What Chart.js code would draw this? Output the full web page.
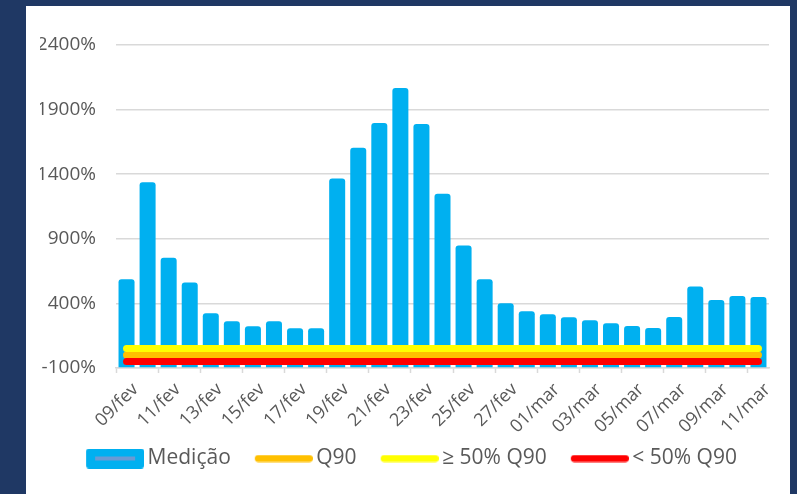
<!DOCTYPE html>
<html><head><meta charset="utf-8">
<script src="https://cdn.jsdelivr.net/npm/chart.js@4"></script>
<style>
html,body{margin:0;padding:0;background:#1F3864;width:797px;height:494px;overflow:hidden}
#wrap{position:absolute;left:26px;top:6px;width:764px;height:488px;background:#fff}
canvas{display:block}
</style></head><body>
<div id="wrap"><canvas id="c" width="764" height="488" style="width:764px;height:488px"></canvas></div>
<script>
const categories = ['09/fev','10/fev','11/fev','12/fev','13/fev','14/fev','15/fev','16/fev','17/fev','18/fev',
  '19/fev','20/fev','21/fev','22/fev','23/fev','24/fev','25/fev','26/fev','27/fev','28/fev',
  '01/mar','02/mar','03/mar','04/mar','05/mar','06/mar','07/mar','08/mar','09/mar','10/mar','11/mar'];
const medicao = [586, 1338, 754, 561, 323, 262, 223, 262, 208, 208,
  1367, 1604, 1797, 2068, 1789, 1249, 849, 586, 401, 339,
  316, 293, 270, 247, 225, 210, 295, 530, 426, 457, 449];
const q90 = [0,0,0,0,0,0,0,0,0,0,0,0,0,0,0,0,0,0,0,0,0,0,0,0,0,0,0,0,0,0,0];
const acima50 = [50,50,50,50,50,50,50,50,50,50,50,50,50,50,50,50,50,50,50,50,50,50,50,50,50,50,50,50,50,50,50];
const abaixo50 = [-50,-50,-50,-50,-50,-50,-50,-50,-50,-50,-50,-50,-50,-50,-50,-50,-50,-50,-50,-50,-50,-50,-50,-50,-50,-50,-50,-50,-50,-50,-50];
const yTicks = {min: -100, max: 2400, step: 500};
const seriesNames = ['Medição', 'Q90', '≥ 50% Q90', '< 50% Q90'];

const FONT = "'Open Sans', 'Noto Sans', sans-serif";
const TXT = '#595959';
const GRID = '#D9D9D9';

// legend marker images
const LM = 21, VIS = 58, TW = LM + VIS;
function boxMarker(){
  const c = document.createElement('canvas'); c.width = TW; c.height = 20;
  const g = c.getContext('2d');
  const x = LM, y = 0, w = VIS, h = 20, r = 3;
  g.fillStyle = '#00B0F0';
  g.beginPath();
  g.moveTo(x + r, y); g.lineTo(x + w - r, y); g.quadraticCurveTo(x + w, y, x + w, y + r);
  g.lineTo(x + w, y + h - r); g.quadraticCurveTo(x + w, y + h, x + w - r, y + h);
  g.lineTo(x + r, y + h); g.quadraticCurveTo(x, y + h, x, y + h - r);
  g.lineTo(x, y + r); g.quadraticCurveTo(x, y, x + r, y); g.closePath(); g.fill();
  g.fillStyle = '#6A9AD4';
  g.fillRect(x + 9, 8, w - 18, 4);
  return c;
}
function lineMarker(color){
  const c = document.createElement('canvas'); c.width = TW; c.height = 8;
  const g = c.getContext('2d');
  g.strokeStyle = color; g.lineWidth = 7; g.lineCap = 'round';
  g.beginPath(); g.moveTo(LM + 3.5, 4); g.lineTo(TW - 3.5, 4); g.stroke();
  return c;
}
const markers = [boxMarker(), lineMarker('#FFC000'), lineMarker('#FFFF00'), lineMarker('#FF0000')];

const lineDs = (label, data, color, order) => ({
  type: 'line', label, data, borderColor: color, backgroundColor: color,
  borderWidth: 7, borderCapStyle: 'round', borderJoinStyle: 'round',
  pointRadius: 0, pointHoverRadius: 0, fill: false, tension: 0, order
});

new Chart(document.getElementById('c'), {
  data: {
    labels: categories,
    datasets: [
      {type: 'bar', label: seriesNames[0], data: medicao, backgroundColor: '#00B0F0',
       base: yTicks.min, borderRadius: 3, borderSkipped: 'start', barPercentage: 0.76, categoryPercentage: 1, order: 10},
      lineDs(seriesNames[1], q90, '#FFC000', 3),
      lineDs(seriesNames[2], acima50, '#FFFF00', 2),
      lineDs(seriesNames[3], abaixo50, '#FF0000', 1)
    ]
  },
  options: {
    responsive: false, animation: false, devicePixelRatio: 1,
    layout: {padding: {left: 14, right: 21, top: 39, bottom: 15}},
    scales: {
      x: {
        offset: true,
        grid: {offset: true, drawOnChartArea: false, drawTicks: true, tickLength: 5, tickWidth: 1.5,
               tickColor: c => (c.index % 2 === 0 ? GRID : 'rgba(0,0,0,0)')},
        border: {display: true, color: GRID, width: 1.5},
        ticks: {autoSkip: false, minRotation: 45, maxRotation: 45, padding: 6, labelOffset: 9, color: TXT,
                font: {family: FONT, size: 18},
                callback: (v, i) => (i % 2 === 0 ? categories[i] : '')},
        afterFit: s => { s.height = 70; }
      },
      y: {
        min: yTicks.min, max: yTicks.max,
        ticks: {stepSize: yTicks.step, color: TXT, padding: 20, font: {family: FONT, size: 19},
                callback: v => v + '%'},
        grid: {color: GRID, lineWidth: 1.5, drawTicks: false},
        border: {display: false},
        afterFit: s => { s.width = 76; }
      }
    },
    plugins: {
      tooltip: {enabled: false},
      legend: {
        position: 'bottom',
        labels: {
          usePointStyle: true, pointStyleWidth: 65, boxHeight: 20, padding: 10,
          color: TXT, font: {family: FONT, size: 21},
          generateLabels: chart => chart.data.datasets.map((ds, i) => ({
            text: ds.label, pointStyle: markers[i], fillStyle: 'rgba(0,0,0,0)',
            strokeStyle: 'rgba(0,0,0,0)', lineWidth: 0, hidden: false, datasetIndex: i, fontColor: TXT
          }))
        }
      }
    }
  }
});
</script>
</body></html>
